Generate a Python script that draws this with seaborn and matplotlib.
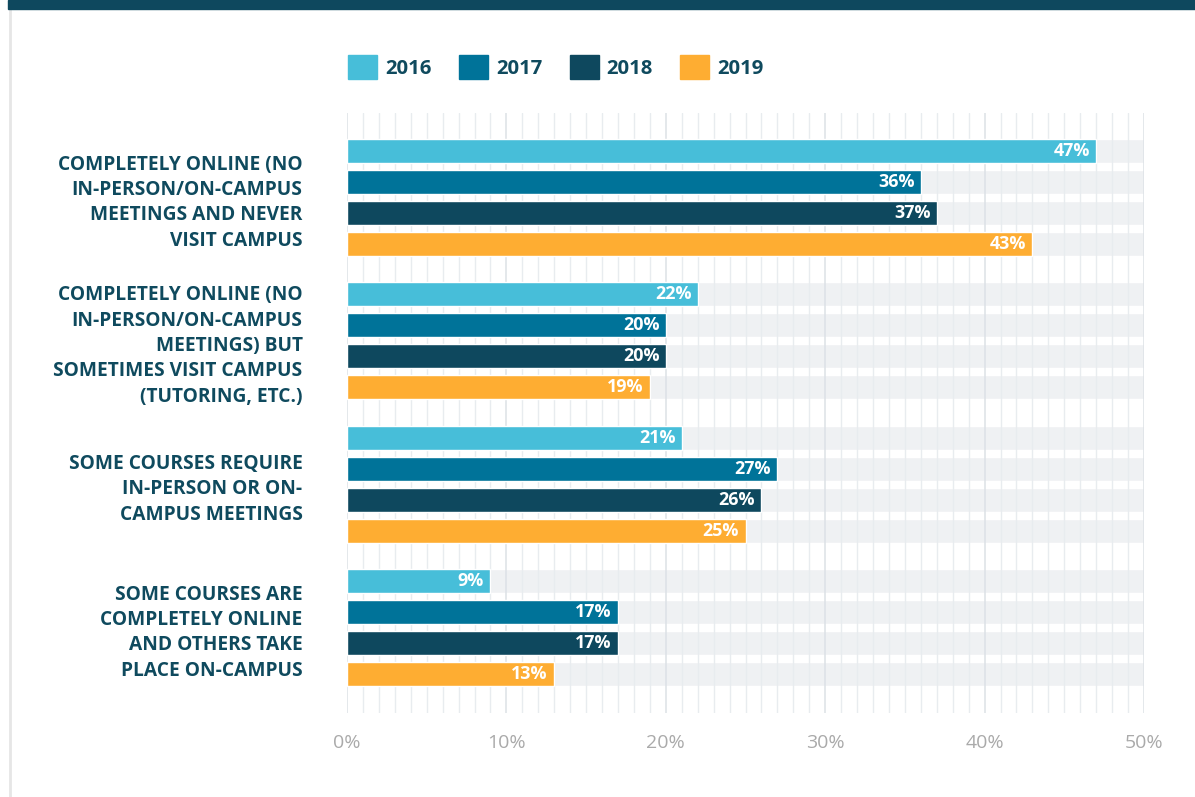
import matplotlib
matplotlib.use("Agg")
import matplotlib.pyplot as plt
from matplotlib.patches import Rectangle
from matplotlib.lines import Line2D
from matplotlib.ticker import MultipleLocator, FuncFormatter
import seaborn as sns
import pandas as pd

# --- data ---
categories = [
    "COMPLETELY ONLINE (NO\nIN-PERSON/ON-CAMPUS\nMEETINGS AND NEVER\nVISIT CAMPUS",
    "COMPLETELY ONLINE (NO\nIN-PERSON/ON-CAMPUS\nMEETINGS) BUT\nSOMETIMES VISIT CAMPUS\n(TUTORING, ETC.)",
    "SOME COURSES REQUIRE\nIN-PERSON OR ON-\nCAMPUS MEETINGS",
    "SOME COURSES ARE\nCOMPLETELY ONLINE\nAND OTHERS TAKE\nPLACE ON-CAMPUS",
]
years = ["2016", "2017", "2018", "2019"]
values_2016 = [47, 22, 21, 9]
values_2017 = [36, 20, 27, 17]
values_2018 = [37, 20, 26, 17]
values_2019 = [43, 19, 25, 13]
x_ticks = [0, 10, 20, 30, 40, 50]

# --- styling ---
year_colors = ["#47bed9", "#007399", "#0e485e", "#fead32"]
text_color = "#0f4a5e"
track_color = "#eff1f3"
tick_color = "#aaaaaa"

rows = []
for yr, vals in zip(years, [values_2016, values_2017, values_2018, values_2019]):
    for cat, v in zip(categories, vals):
        rows.append({"category": cat, "year": yr, "value": v, "track": x_ticks[-1]})
df = pd.DataFrame(rows)

sns.set_theme(style="white")
plt.rcParams["font.family"] = ["Open Sans", "DejaVu Sans"]

fig = plt.figure(figsize=(11.95, 7.97), dpi=100)
ax = fig.add_axes([347 / 1195, 1 - 713 / 797, (1144 - 347) / 1195, (713 - 113) / 797])

bar_width = 0.865
bar_gap = 0.225

# light grey track behind every bar
sns.barplot(data=df, y="category", x="track", hue="year", hue_order=years,
            order=categories, palette=[track_color] * 4, width=bar_width,
            gap=bar_gap, orient="h", legend=False, ax=ax, saturation=1)
n_track = len(ax.patches)
for p in ax.patches:
    p.set_zorder(0.2)

# actual values
sns.barplot(data=df, y="category", x="value", hue="year", hue_order=years,
            order=categories, palette=year_colors, width=bar_width,
            gap=bar_gap, orient="h", ax=ax, saturation=1)
value_bars = ax.patches[n_track:]
for p in value_bars:
    p.set_zorder(2)
    w = p.get_width()
    if w > 0:
        ax.text(w - 0.4, p.get_y() + p.get_height() / 2, f"{w:.0f}%",
                ha="right", va="center", color="white", fontsize=12.9,
                fontweight="bold", zorder=3)

ax.set_xlim(0, x_ticks[-1])
ax.set_ylim(3.597, -0.59)

# vertical grid: 1% minor lines, 10% major lines
ax.set_axisbelow(True)
ax.xaxis.set_major_locator(MultipleLocator(10))
ax.xaxis.set_minor_locator(MultipleLocator(1))
ax.grid(which="minor", axis="x", color="#e8ecef", lw=1.0)
ax.grid(which="major", axis="x", color="#dce1e6", lw=1.1)
ax.grid(axis="y", visible=False)

ax.set_xticks(x_ticks)
ax.xaxis.set_major_formatter(FuncFormatter(lambda v, _: f"{v:.0f}%"))
ax.tick_params(axis="x", which="both", length=0, pad=15, labelsize=14,
               labelcolor=tick_color)
ax.tick_params(axis="y", length=0, pad=32)
for lab in ax.get_yticklabels():
    lab.set_fontweight("bold")
    lab.set_fontsize(13.8)
    lab.set_color(text_color)
    lab.set_linespacing(1.36)
    lab.set_horizontalalignment("right")

ax.set_xlabel("")
ax.set_ylabel("")
for s in ax.spines.values():
    s.set_visible(False)

# legend across the top
handles = [Rectangle((0, 0), 1, 1, color=c) for c in year_colors]
ax.legend(handles, years, ncol=4, frameon=False, loc="center left",
          bbox_to_anchor=(348 / 1195, 1 - 67 / 797), bbox_transform=fig.transFigure,
          handlelength=1.43, handleheight=1.43, handletextpad=0.4,
          columnspacing=1.35, borderpad=0, borderaxespad=0,
          prop={"weight": "bold", "size": 14.6})
for t in ax.get_legend().get_texts():
    t.set_color(text_color)

# page frame: dark band on top, thin grey rule on the left
fig.patches.append(Rectangle((8 / 1195, 1 - 8.5 / 797), 1, 8.5 / 797,
                             transform=fig.transFigure, color="#0e485e", zorder=5))
fig.lines.append(Line2D([10 / 1195, 10 / 1195], [0, 1 - 8.5 / 797],
                        transform=fig.transFigure, color="#e6e6e6", lw=2))

fig.savefig("out.png", dpi=100, facecolor="white")
